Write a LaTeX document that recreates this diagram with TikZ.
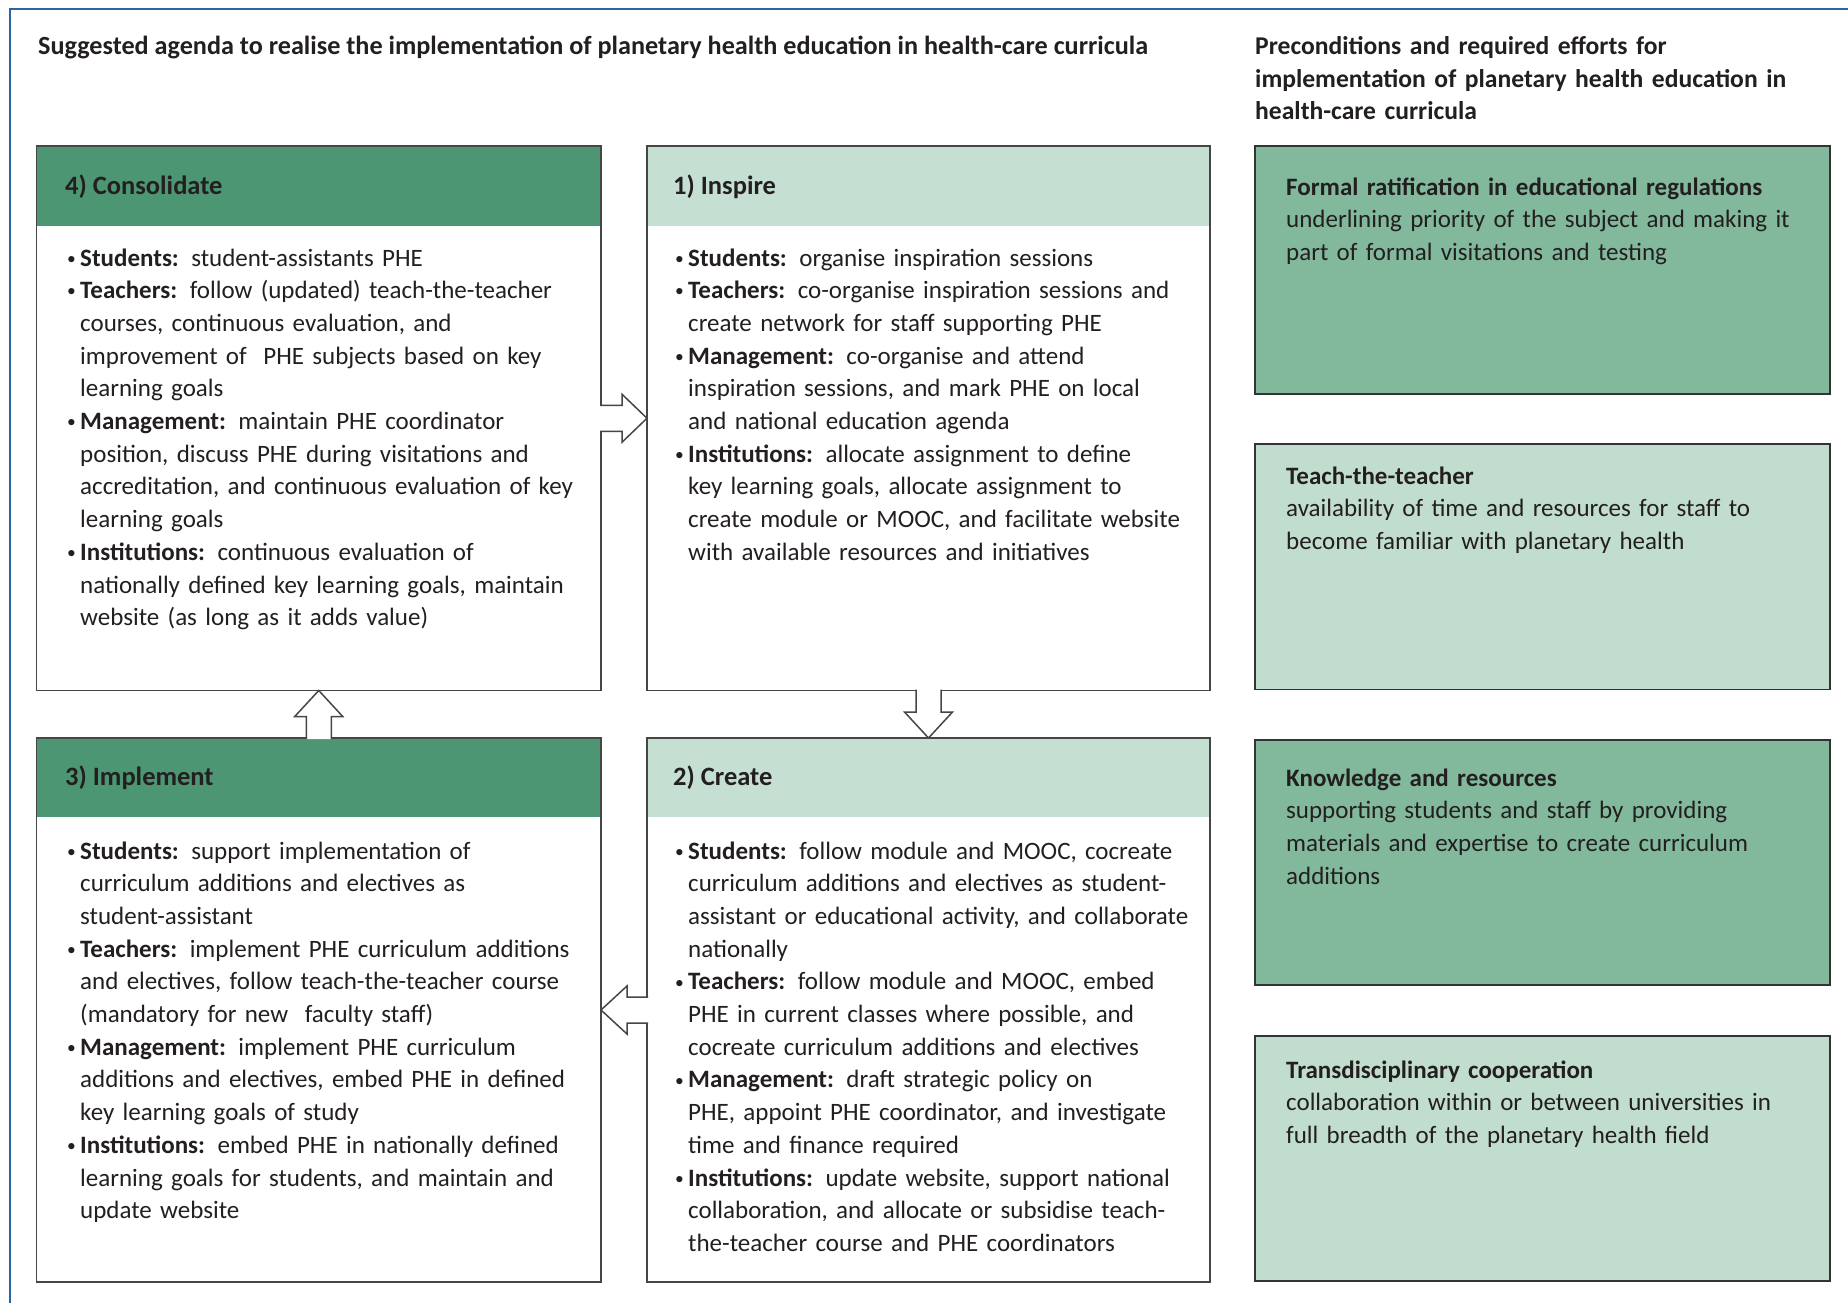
\documentclass[tikz,border=0pt]{standalone}
\usepackage{fontspec}
\setmainfont{Carlito}
\usetikzlibrary{calc}
\definecolor{darkhead}{RGB}{76,150,115}
\definecolor{lighthead}{RGB}{197,224,210}
\definecolor{rdark}{RGB}{130,184,155}
\definecolor{rlight}{RGB}{193,221,205}
\definecolor{frameblue}{RGB}{46,100,165}
\definecolor{edgegray}{RGB}{70,70,70}
\definecolor{ink}{RGB}{35,31,32}
\newcommand{\bul}{\raisebox{0.15ex}{\scalebox{0.7}{\textbullet}}}
\newcommand{\itm}[2]{\noindent\llap{\makebox[13pt][l]{\bul}}\textbf{#1:} #2\par}
\tikzset{
  x=1pt, y=-1pt,
  panel/.style={fill=white, anchor=north west, inner sep=0pt, outer sep=0pt},
  outline/.style={draw=edgegray, line width=1.6pt},
  body/.style={anchor=base west, inner sep=0pt, text width=540pt, align=left, text=ink,
    font=\fontsize{25}{32.7}\selectfont},
  headtext/.style={anchor=base west, inner sep=0pt, text=ink, font=\fontsize{26.5}{30}\selectfont\bfseries},
  blk/.style={draw=edgegray, line width=1.5pt, fill=white, line join=miter},
}
\begin{document}
\begin{tikzpicture}
\useasboundingbox (0,0) rectangle (1848,1303);
\fill[white] (0,0) rectangle (1848,1303);
\draw[frameblue, line width=2pt] (10,1303) -- (10,9.5) -- (1848,9.5);

% titles
\node[anchor=base west, inner sep=0pt, text=ink, font=\fontsize{26.2}{32.7}\selectfont\bfseries] (title) at (38,55)
  {Suggested agenda to realise the implementation of planetary health education in health-care curricula};
\node[anchor=base west, inner sep=0pt, text width=580pt, align=left, text=ink, font=\fontsize{25.6}{32.5}\selectfont\bfseries] (rtitle) at (1255,55)
  {Preconditions and required efforts for\\implementation of planetary health education in\\health-care curricula};

% stage panels
\node[panel, minimum width=564.5pt, minimum height=544.5pt] (cons) at (36.5,146) {};
\node[panel, minimum width=563pt, minimum height=544.5pt] (insp) at (647,146) {};
\node[panel, minimum width=564.5pt, minimum height=544pt] (impl) at (36.5,738) {};
\node[panel, minimum width=563pt, minimum height=544pt] (crea) at (647,738) {};

\fill[darkhead] (cons.north west) rectangle ([yshift=-80pt]cons.north east);
\fill[lighthead] (insp.north west) rectangle ([yshift=-80pt]insp.north east);
\fill[darkhead] (impl.north west) rectangle ([yshift=-79pt]impl.north east);
\fill[lighthead] (crea.north west) rectangle ([yshift=-79pt]crea.north east);

\foreach \n in {cons,insp,impl,crea}
  \draw[outline] (\n.north west) rectangle (\n.south east);

% right panels
\node[panel, fill=rdark, minimum width=575pt, minimum height=248pt] (r1) at (1255,146) {};
\node[panel, fill=rlight, minimum width=575pt, minimum height=245.5pt] (r2) at (1255,444) {};
\node[panel, fill=rdark, minimum width=575pt, minimum height=245pt] (r3) at (1255,740) {};
\node[panel, fill=rlight, minimum width=575pt, minimum height=245pt] (r4) at (1255,1036) {};
\foreach \n in {r1,r2,r3,r4}
  \draw[outline, draw=black!80] (\n.north west) rectangle (\n.south east);

% block arrows
\draw[blk] (cons.east) ++(-1,-13) -- ++(22,0) -- ++(0,-11) -- (insp.west) -- ++(-25,24) -- ++(0,-11) -- ++(-22,0);
\draw[blk] (insp.south) ++(-12.5,-1) -- ++(0,22.5) -- ++(-11.5,0) -- (crea.north) -- ++(24,-26) -- ++(-11.5,0) -- ++(0,-22.5);
\draw[blk] (crea.west) ++(1,-13) -- ++(-21,0) -- ++(0,-11) -- (impl.east) -- ++(26,24) -- ++(0,-11) -- ++(21,0);
\draw[blk] (impl.north) ++(-12.5,1) -- ++(0,-22.5) -- ++(-11.5,0) -- (cons.south) -- ++(24,26) -- ++(-11.5,0) -- ++(0,22.5);

% headers
\node[headtext] (consT) at (65,194) {4) Consolidate};
\node[headtext] (inspT) at (673,194) {1) Inspire};
\node[headtext] (implT) at (65,785) {3) Implement};
\node[headtext] (creaT) at (673,785) {2) Create};

% bodies
\node[body] (consB) at (67,266) {\leftskip=13pt\relax
\itm{Students}{student-assistants PHE}
\itm{Teachers}{follow (updated) teach-the-teacher\\courses, continuous evaluation, and\\improvement of \ PHE subjects based on key\\learning goals}
\itm{Management}{maintain PHE coordinator\\position, discuss PHE during visitations and\\accreditation, and continuous evaluation of key\\learning goals}
\itm{Institutions}{continuous evaluation of\\nationally defined key learning goals, maintain\\website (as long as it adds value)}};

\node[body] (inspB) at (675,266) {\leftskip=13pt\relax
\itm{Students}{organise inspiration sessions}
\itm{Teachers}{co-organise inspiration sessions and\\create network for staff supporting PHE}
\itm{Management}{co-organise and attend\\inspiration sessions, and mark PHE on local\\and national education agenda}
\itm{Institutions}{allocate assignment to define\\key learning goals, allocate assignment to\\create module or MOOC, and facilitate website\\with available resources and initiatives}};

\node[body] (implB) at (67,859) {\leftskip=13pt\relax
\itm{Students}{support implementation of\\curriculum additions and electives as\\student-assistant}
\itm{Teachers}{implement PHE curriculum additions\\and electives, follow teach-the-teacher course\\(mandatory for new \ faculty staff)}
\itm{Management}{implement PHE curriculum\\additions and electives, embed PHE in defined\\key learning goals of study}
\itm{Institutions}{embed PHE in nationally defined\\learning goals for students, and maintain and\\update website}};

\node[body] (creaB) at (675,859) {\leftskip=13pt\relax
\itm{Students}{follow module and MOOC, cocreate\\curriculum additions and electives as student-\\assistant or educational activity, and collaborate\\nationally}
\itm{Teachers}{follow module and MOOC, embed\\PHE in current classes where possible, and\\cocreate curriculum additions and electives}
\itm{Management}{draft strategic policy on\\PHE, appoint PHE coordinator, and investigate\\time and finance required}
\itm{Institutions}{update website, support national\\collaboration, and allocate or subsidise teach-\\the-teacher course and PHE coordinators}};

% right texts
\node[body] (r1T) at (1286,195) {\textbf{Formal ratification in educational regulations}\\underlining priority of the subject and making it\\part of formal visitations and testing};
\node[body] (r2T) at (1286,484) {\textbf{Teach-the-teacher}\\availability of time and resources for staff to\\become familiar with planetary health};
\node[body] (r3T) at (1286,786) {\textbf{Knowledge and resources}\\supporting students and staff by providing\\materials and expertise to create curriculum\\additions};
\node[body] (r4T) at (1286,1078) {\textbf{Transdisciplinary cooperation}\\collaboration within or between universities in\\full breadth of the planetary health field};
\end{tikzpicture}
\end{document}
